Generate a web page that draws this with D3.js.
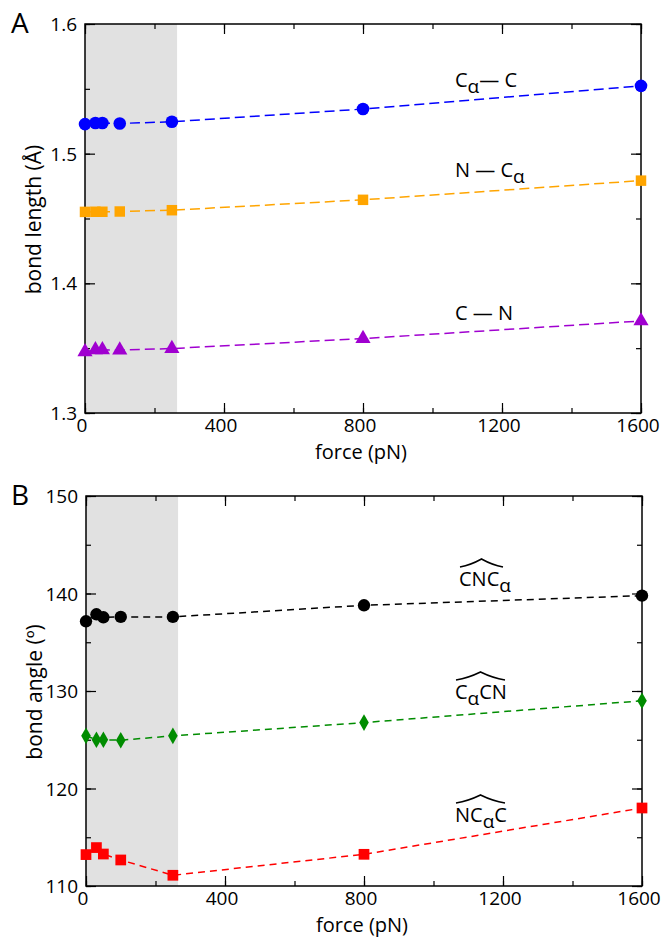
<!DOCTYPE html>
<html>
<meta charset="utf-8">
<style type="text/css">
	body { margin: 0; background: #fff; }
	svg text { font-family: "Open Sans", "DejaVu Sans", sans-serif; fill: #000; }
	.dline { fill: none; stroke-width: 1.5px; }
</style>
<svg width="662" height="939"></svg>
<script src="https://d3js.org/d3.v7.min.js"></script>
<script>
	// forces (pN) used for every series
	var force = [0, 30, 50, 100, 250, 800, 1600];
	var shadeEnd = 265;
	var xTicks = [0, 400, 800, 1200, 1600];

	// panel A: bond lengths (Å)
	var caC = [1.5228, 1.5236, 1.5236, 1.5233, 1.5246, 1.5344, 1.5523];
	var nCa = [1.4551, 1.4552, 1.4552, 1.4554, 1.4564, 1.4644, 1.4792];
	var cN  = [1.3472, 1.3487, 1.3487, 1.3485, 1.3497, 1.3574, 1.3710];
	var lengthTicks = [1.3, 1.4, 1.5, 1.6];

	// panel B: bond angles (deg)
	var cnca = [137.15, 137.87, 137.56, 137.6, 137.6, 138.79, 139.78];
	var cacn = [125.4, 125.0, 125.0, 124.95, 125.4, 126.76, 129.0];
	var ncac = [113.22, 113.94, 113.28, 112.67, 111.1, 113.25, 118.0];
	var angleTicks = [110, 120, 130, 140, 150];

	var svg = d3.select('svg');

	function drawPanel(p) {
		var g = svg.append('g');
		var x = d3.scaleLinear().domain([0, 1600]).range([p.left, p.right]);
		var y = d3.scaleLinear().domain(p.domain).range([p.bottom, p.top]);

		g.append('rect')
			.attr('x', x(0)).attr('y', p.top)
			.attr('width', x(shadeEnd) - x(0)).attr('height', p.bottom - p.top)
			.attr('fill', '#e1e1e1');

		// axes with inward ticks on all four sides
		var minorX = d3.range(0, 1601, 200);
		var minorY = d3.range(p.domain[0], p.domain[1] + p.step / 4, p.step / 2);
		g.append('g').attr('transform', 'translate(0,' + p.bottom + ')')
			.call(d3.axisTop(x).tickValues(minorX).tickSize(5).tickFormat(''));
		g.append('g').attr('transform', 'translate(0,' + p.bottom + ')')
			.call(d3.axisTop(x).tickValues(xTicks).tickSize(10).tickFormat(''));
		g.append('g').attr('transform', 'translate(0,' + p.top + ')')
			.call(d3.axisBottom(x).tickValues(minorX).tickSize(5).tickFormat(''));
		g.append('g').attr('transform', 'translate(0,' + p.top + ')')
			.call(d3.axisBottom(x).tickValues(xTicks).tickSize(10).tickFormat(''));
		g.append('g').attr('transform', 'translate(' + p.left + ',0)')
			.call(d3.axisRight(y).tickValues(minorY).tickSize(5).tickFormat(''));
		g.append('g').attr('transform', 'translate(' + p.left + ',0)')
			.call(d3.axisRight(y).tickValues(p.ticks).tickSize(10).tickFormat(''));
		g.append('g').attr('transform', 'translate(' + p.right + ',0)')
			.call(d3.axisLeft(y).tickValues(minorY).tickSize(5).tickFormat(''));
		g.append('g').attr('transform', 'translate(' + p.right + ',0)')
			.call(d3.axisLeft(y).tickValues(p.ticks).tickSize(10).tickFormat(''));
		g.selectAll('.domain').remove();
		g.selectAll('.tick line').attr('stroke', '#000').attr('stroke-width', 1.2);

		g.append('rect')
			.attr('x', p.left).attr('y', p.top)
			.attr('width', p.right - p.left).attr('height', p.bottom - p.top)
			.attr('fill', 'none').attr('stroke', '#000').attr('stroke-width', 1.5);

		// tick labels
		g.selectAll('.xl').data(xTicks).enter().append('text')
			.attr('x', function(d) { return x(d) - 3; })
			.attr('y', p.bottom + 19)
			.attr('text-anchor', 'middle')
			.style('font-size', '19px')
			.text(function(d) { return d; });
		g.selectAll('.yl').data(p.ticks).enter().append('text')
			.attr('x', p.left - 8)
			.attr('y', function(d) { return y(d) + 7; })
			.attr('text-anchor', 'end')
			.style('font-size', '19px')
			.text(function(d) { return p.fmt(d); });

		g.append('text')
			.attr('x', (p.left + p.right) / 2 - 2).attr('y', p.bottom + 46)
			.attr('text-anchor', 'middle').style('font-size', '20px')
			.text('force (pN)');
		g.append('text')
			.attr('transform', 'translate(' + (p.left - 44) + ',' + ((p.top + p.bottom) / 2 + 1) + ') rotate(-90)')
			.attr('text-anchor', 'middle').style('font-size', '21px')
			.text(p.ylabel);
		g.append('text')
			.attr('x', 11).attr('y', p.top + 9)
			.style('font-size', '28px')
			.text(p.letter);

		// series
		p.series.forEach(function(s) {
			var pts = force.map(function(f, i) { return [x(f), y(s.values[i])]; });
			g.append('path')
				.attr('class', 'dline')
				.attr('d', d3.line()(pts))
				.attr('stroke', s.color)
				.attr('stroke-dasharray', p.dash);
			g.selectAll(null).data(pts).enter().append('path')
				.attr('transform', function(d) { return 'translate(' + d[0] + ',' + d[1] + ')'; })
				.attr('d', d3.symbol().type(s.symbol).size(s.size))
				.attr('fill', s.color);

			var t = g.append('text')
				.attr('x', s.lx).attr('y', s.ly)
				.style('font-size', '20px');
			s.label.forEach(function(part) {
				var ts = t.append('tspan').text(part.t);
				if (part.sub) ts.attr('dy', 6).style('font-size', '19px');
				else if (part.after) ts.attr('dy', -6);
				if (part.dx) ts.attr('dx', part.dx);
			});
			if (s.hat) {
				// wide circumflex over the angle name
				var x0 = s.lx + 1, x1 = s.lx + s.hat, xm = (x0 + x1) / 2;
				var yEnd = s.ly - 19, yTop = s.ly - 27;
				g.append('path')
					.attr('d', 'M' + x0 + ',' + yEnd +
						'Q' + ((x0 + xm) / 2) + ',' + (yEnd - 2) + ' ' + xm + ',' + yTop +
						'Q' + ((xm + x1) / 2) + ',' + (yEnd - 2) + ' ' + x1 + ',' + yEnd)
					.attr('fill', 'none').attr('stroke', '#000').attr('stroke-width', 1.6);
			}
		});
	}

	drawPanel({
		letter: 'A', top: 24, bottom: 413, left: 85, right: 641,
		domain: [1.3, 1.6], step: 0.1, ticks: lengthTicks,
		fmt: d3.format('.1f'), ylabel: 'bond length (Å)', dash: '10,5',
		series: [
			{ values: caC, color: '#0000ff', symbol: d3.symbolCircle, size: 125, lx: 455, ly: 87,
				label: [{ t: 'C' }, { t: 'α', sub: true }, { t: '— C', after: true }] },
			{ values: nCa, color: '#ffa500', symbol: d3.symbolSquare, size: 110, lx: 455, ly: 177,
				label: [{ t: 'N — C' }, { t: 'α', sub: true }] },
			{ values: cN, color: '#a000d0', symbol: d3.symbolTriangle, size: 100, lx: 455, ly: 320,
				label: [{ t: 'C — N' }] }
		]
	});

	drawPanel({
		letter: 'B', top: 496, bottom: 886, left: 86, right: 642,
		domain: [110, 150], step: 10, ticks: angleTicks,
		fmt: d3.format('d'), ylabel: 'bond angle (º)', dash: '7,5',
		series: [
			{ values: cnca, color: '#000000', symbol: d3.symbolCircle, size: 120, lx: 459, ly: 586, hat: 44,
				label: [{ t: 'CNC' }, { t: 'α', sub: true }] },
			{ values: cacn, color: '#008c00', symbol: d3.symbolDiamond, size: 80, lx: 455, ly: 699, hat: 50,
				label: [{ t: 'C' }, { t: 'α', sub: true }, { t: 'CN', after: true }] },
			{ values: ncac, color: '#ff0000', symbol: d3.symbolSquare, size: 115, lx: 455, ly: 822, hat: 50,
				label: [{ t: 'NC' }, { t: 'α', sub: true }, { t: 'C', after: true }] }
		]
	});
</script>
</html>
